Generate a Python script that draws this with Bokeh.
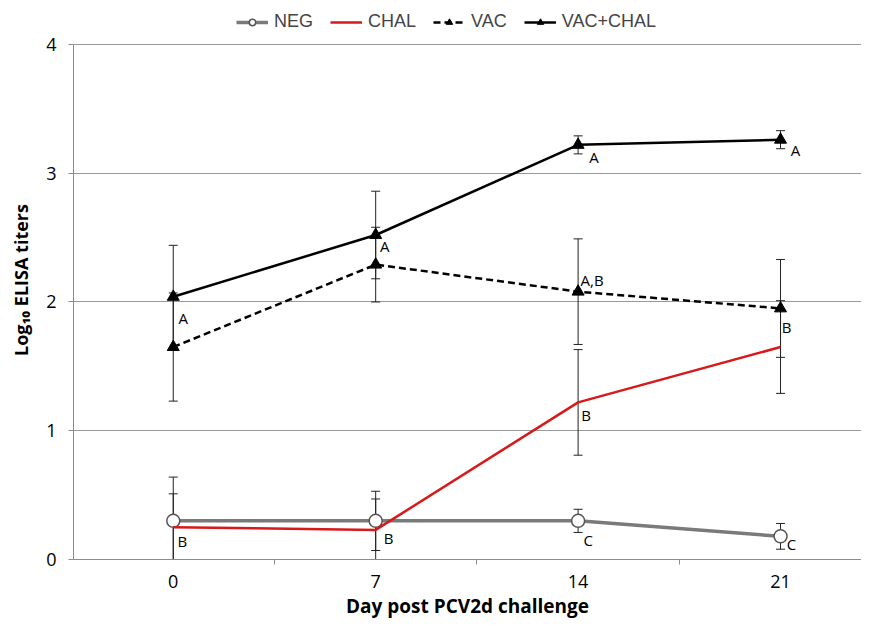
from bokeh.plotting import figure
from bokeh.models import (ColumnDataSource, Whisker, TeeHead, FixedTicker, Legend, LegendItem, Range1d, Title)
from bokeh.core.properties import value
from bokeh.embed import file_html
from bokeh.resources import INLINE

# ---------------- data ----------------
days = [0, 7, 14, 21]
day_labels = ["0", "7", "14", "21"]

neg = [0.30, 0.30, 0.30, 0.18]
neg_err = [0.34, 0.23, 0.09, 0.10]

chal = [0.25, 0.23, 1.22, 1.65]
chal_err = [0.26, 0.24, 0.41, 0.36]

vac = [1.65, 2.29, 2.08, 1.95]
vac_err = [0.42, 0.29, 0.41, 0.38]

vacchal = [2.04, 2.52, 3.22, 3.26]
vacchal_err = [0.40, 0.34, 0.07, 0.07]

y_ticks = [0, 1, 2, 3, 4]

# statistical letters: series anchor, day index, text
letter_series = ["NEG", "NEG", "NEG", "NEG", "CHAL", "VAC+CHAL", "VAC+CHAL", "VAC+CHAL", "VAC+CHAL", "VAC", "VAC"]
letter_idx = [0, 1, 2, 3, 2, 0, 1, 2, 3, 2, 3]
letter_text = ["B", "B", "C", "C", "B", "A", "A", "A", "A", "A,B", "B"]
# pixel offsets (style)
letter_dx = [9, 13, 10, 11, 8, 10, 9, 16, 15, 14, 6]
letter_dy = [20, 17, 19, 8, 13, 21, 11, 12, 10, -12, 19]

series = {"NEG": neg, "CHAL": chal, "VAC": vac, "VAC+CHAL": vacchal}

x_title = "Day post PCV2d challenge"
y_title = "Log\u2081\u2080 ELISA titers"

FONT = "Open Sans"
LEGFONT = "Liberation Sans"

# frame extends above y=4 to hold the legend (44px of headroom at 129 px/unit)
Y_TOP = 4 + 44 / 129.0

p = figure(width=861, height=618, output_backend="svg", toolbar_location=None,
           x_range=Range1d(-3.45, 23.8), y_range=Range1d(0, Y_TOP),
           min_border_left=73, min_border_right=0, min_border_top=0, min_border_bottom=56)
p.outline_line_color = None
p.background_fill_color = "white"
p.border_fill_color = "white"

# axes
p.xaxis.ticker = FixedTicker(ticks=days, minor_ticks=[3.5, 10.5, 17.5])
p.xaxis.major_label_overrides = {d: l for d, l in zip(days, day_labels)}
p.xaxis.major_tick_out = 0
p.xaxis.major_tick_in = 0
p.xaxis.minor_tick_out = 5
p.xaxis.minor_tick_in = 0
p.xaxis.minor_tick_line_color = "#8c8c8c"
p.xaxis.axis_line_color = "#8c8c8c"
p.xaxis.major_label_text_font = FONT
p.xaxis.major_label_text_font_size = "18px"
p.xaxis.major_label_text_color = "black"
p.xaxis.major_label_standoff = 10

p.yaxis.ticker = FixedTicker(ticks=y_ticks)
p.yaxis.bounds = (min(y_ticks), max(y_ticks))
p.yaxis.major_tick_out = 5
p.yaxis.major_tick_in = 0
p.yaxis.minor_tick_line_color = None
p.yaxis.major_tick_line_color = "#8c8c8c"
p.yaxis.axis_line_color = "#8c8c8c"
p.yaxis.major_label_text_font = FONT
p.yaxis.major_label_text_font_size = "18px"
p.yaxis.major_label_text_color = "black"
p.yaxis.major_label_standoff = 12
p.yaxis.axis_label = y_title
p.yaxis.axis_label_text_font = FONT
p.yaxis.axis_label_text_font_style = "bold"
p.yaxis.axis_label_text_font_size = "18px"
p.yaxis.axis_label_text_color = "black"
p.yaxis.axis_label_standoff = 10

p.xgrid.grid_line_color = None
p.ygrid.grid_line_color = "#9a9a9a"
p.ygrid.grid_line_width = 1

# x-axis title below
p.add_layout(Title(text=x_title, align="center", offset=10, standoff=0, text_font=FONT,
                   text_font_style="bold", text_font_size="19px", text_color="black"), "below")

# error bars
def add_err(vals, errs):
    src = ColumnDataSource(dict(x=days, lo=[max(v - e, 0) for v, e in zip(vals, errs)],
                                hi=[v + e for v, e in zip(vals, errs)]))
    w = Whisker(source=src, base="x", lower="lo", upper="hi", line_color="#222222", line_width=1,
                upper_head=TeeHead(size=9, line_color="#222222", line_width=1),
                lower_head=TeeHead(size=9, line_color="#222222", line_width=1))
    p.add_layout(w)

for v, e in [(neg, neg_err), (chal, chal_err), (vac, vac_err), (vacchal, vacchal_err)]:
    add_err(v, e)

r_neg_l = p.line(days, neg, line_color="#7a7a7a", line_width=3.5)
r_neg_m = p.scatter(days, neg, marker="circle", size=13, fill_color="white", line_color="#555555", line_width=1.5)
r_chal_l = p.line(days, chal, line_color="#d7191c", line_width=2.5)
r_vac_l = p.line(days, vac, line_color="black", line_width=2.5, line_dash="7 4")
r_vac_m = p.scatter(days, vac, marker="triangle", size=12, fill_color="black", line_color="black")
r_vc_l = p.line(days, vacchal, line_color="black", line_width=2.5)
r_vc_m = p.scatter(days, vacchal, marker="triangle", size=12, fill_color="black", line_color="black")

# letters
lx = [days[i] for i in letter_idx]
ly = [series[s][i] for s, i in zip(letter_series, letter_idx)]
lsrc = ColumnDataSource(dict(x=lx, y=ly, t=letter_text, dx=letter_dx, dy=letter_dy))
p.text(x="x", y="y", text="t", x_offset="dx", y_offset="dy", source=lsrc,
       text_font=value(FONT), text_font_size="15px", text_color="black",
       text_align="center", text_baseline="middle")

legend = Legend(items=[
    LegendItem(label="NEG", renderers=[r_neg_l, r_neg_m]),
    LegendItem(label="CHAL", renderers=[r_chal_l]),
    LegendItem(label="VAC", renderers=[r_vac_l, r_vac_m]),
    LegendItem(label="VAC+CHAL", renderers=[r_vc_l, r_vc_m]),
], orientation="horizontal", location=(163, 527), border_line_color=None,
    background_fill_alpha=0, label_text_font=LEGFONT, label_text_font_size="18px",
    glyph_width=32, glyph_height=16, spacing=17, padding=2, margin=0, label_standoff=6)
p.add_layout(legend)

open("out.html", "w").write(file_html(p, INLINE))
